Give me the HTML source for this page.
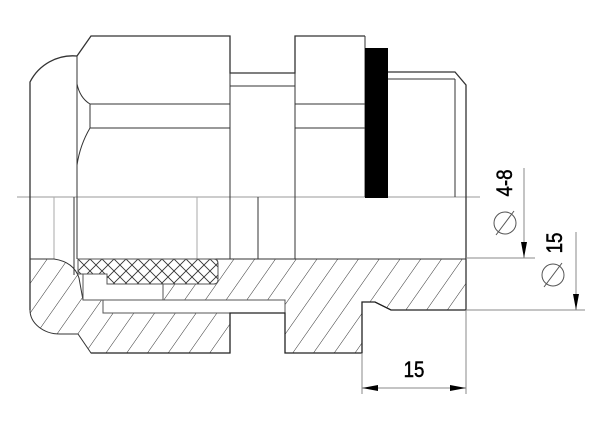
<!DOCTYPE html>
<html><head><meta charset="utf-8"><style>
html,body{margin:0;padding:0;background:#fff;}
svg{display:block;}
</style></head><body>
<svg width="600" height="422" viewBox="0 0 600 422" xmlns="http://www.w3.org/2000/svg">
<defs>
<pattern id="h" patternUnits="userSpaceOnUse" width="17" height="17" patternTransform="rotate(35)">
<line x1="0" y1="0" x2="0" y2="17" stroke="#333" stroke-width="1"/>
</pattern>
<pattern id="x" patternUnits="userSpaceOnUse" width="12" height="12" x="78" y="259">
<path d="M0,0 L12,12 M12,0 L0,12" stroke="#333" stroke-width="0.9"/>
</pattern>
</defs>
<g fill="none" stroke="#333" stroke-width="1">
<line x1="17" y1="197" x2="480" y2="197" stroke="#999"/>
<path d="M30,310 L30,82 A48,48 0 0 1 77,56" stroke-width="1.3"/>
<path d="M77,56 L91,36 L230,36 L230,73 L295,73 L295,36 L365,36" stroke-width="1.3"/>
<line x1="77" y1="56" x2="77" y2="259"/>
<line x1="230" y1="36" x2="230" y2="259"/>
<line x1="295" y1="36" x2="295" y2="259"/>
<line x1="365" y1="36" x2="365" y2="197"/>
<line x1="230" y1="86" x2="295" y2="86"/>
<line x1="90" y1="104" x2="230" y2="104"/>
<line x1="90" y1="128" x2="230" y2="128"/>
<line x1="295" y1="104" x2="365" y2="104"/>
<line x1="295" y1="128" x2="365" y2="128"/>
<line x1="90" y1="104" x2="90" y2="128"/>
<path d="M77,84 Q80,98 90,104"/>
<path d="M90,128 Q80,145 77,165"/>
<path d="M388,72 L455,72 L466,85 L466,310" stroke-width="1.3"/>
<line x1="388" y1="79" x2="455" y2="79"/>
<line x1="455" y1="79" x2="455" y2="197"/>
<line x1="54" y1="197" x2="54" y2="259" stroke="#aaa"/>
<line x1="74" y1="197" x2="74" y2="275"/>
<line x1="197" y1="197" x2="197" y2="284" stroke="#aaa"/>
<line x1="258" y1="197" x2="258" y2="259"/>
</g>
<rect x="365" y="48" width="23" height="150" fill="#000"/>
<path d="M30,259 L54,259 Q74,262 79,278 L83,300 L103,300 L103,313 L230,313 L230,353 L91,353 L78,334 L60,334 A30,24 0 0 1 30,310 Z" fill="url(#h)" stroke="#333" stroke-width="1"/>
<path d="M163,259 L466,259 L466,310 L391,310 L375,302 L362,302 L362,353 L285,353 L285,313 L285,300 L163,300 Z" fill="url(#h)" stroke="#333" stroke-width="1"/>
<path d="M103,300 L285,300 L285,313 L103,313 Z" fill="#fff" stroke="#555" stroke-width="1"/>
<path d="M83,274 L83,300 L163,300 L163,284" fill="#fff" stroke="#555"/>
<path d="M78,259 L214,259 Q218,259 218,264 L218,280 Q218,284 214,284 L107,284 L107,274 L78,274 Z" fill="#fff" stroke="#555"/>
<path d="M78,259 L214,259 Q218,259 218,264 L218,280 Q218,284 214,284 L107,284 L107,274 L78,274 Z" fill="url(#x)" stroke="#555"/>
<path d="M91,353 L230,353 L230,313 L285,313 L285,353 L362,353 L362,302 L375,302 L391,310 L466,310" fill="none" stroke="#222" stroke-width="1.3"/>
<g stroke="#888" stroke-width="1" fill="none">
<line x1="466" y1="258" x2="535" y2="258"/>
<line x1="466" y1="310" x2="585" y2="310"/>
<line x1="524" y1="168" x2="524" y2="258"/>
<line x1="576" y1="232" x2="576" y2="310"/>
<line x1="362" y1="353" x2="362" y2="394"/>
<line x1="466" y1="310" x2="466" y2="394"/>
<line x1="362" y1="388" x2="466" y2="388"/>
</g>
<g stroke="#555" stroke-width="1" fill="none">
<circle cx="505" cy="223" r="11"/>
<line x1="496" y1="235" x2="514" y2="211"/>
<circle cx="553" cy="275" r="11"/>
<line x1="544" y1="287" x2="562" y2="263"/>
</g>
<g fill="#000">
<polygon points="524,258 521,242 527,242"/>
<polygon points="576,310 573,294 579,294"/>
<polygon points="362,388 378,385 378,391"/>
<polygon points="466,388 450,385 450,391"/>
</g>
<g font-family="Liberation Sans, sans-serif" font-size="22" fill="#000" stroke="#000" stroke-width="0.5">
<text x="0" y="0" transform="translate(512,183) rotate(-90) scale(0.85,1)" text-anchor="middle">4-8</text>
<text x="0" y="0" transform="translate(562,243) rotate(-90) scale(0.85,1)" text-anchor="middle">15</text>
<text x="0" y="0" transform="translate(414,377) scale(0.85,1)" text-anchor="middle">15</text>
</g>
</svg>
</body></html>
